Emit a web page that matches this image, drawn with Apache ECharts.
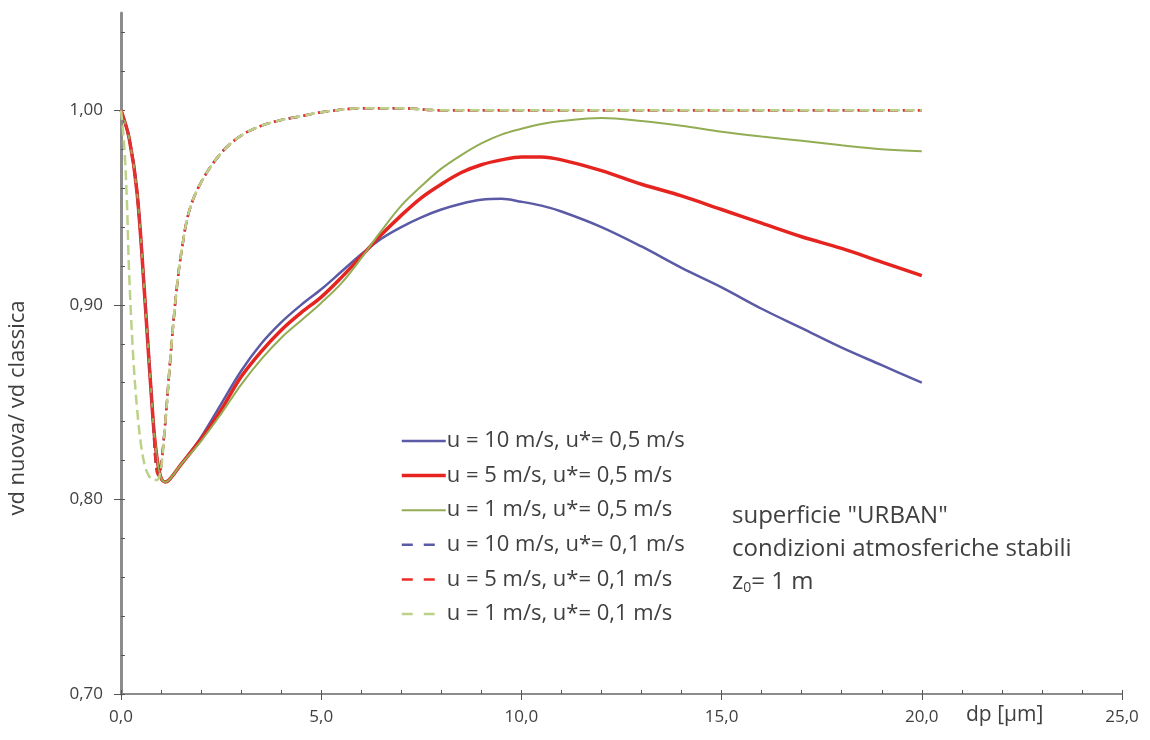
<!DOCTYPE html>
<html>
<head>
<meta charset="utf-8">
<script src="https://cdn.jsdelivr.net/npm/echarts@6/dist/echarts.min.js"></script>
<style>
html,body{margin:0;padding:0;background:#fff;}
#chart{width:1150px;height:740px;}
</style>
</head>
<body>
<div id="chart"></div>
<script>
// ---- data ----
const seriesNames = [
  'u = 10 m/s, u*= 0,5 m/s',
  'u = 5 m/s, u*= 0,5 m/s',
  'u = 1 m/s, u*= 0,5 m/s',
  'u = 10 m/s, u*= 0,1 m/s',
  'u = 5 m/s, u*= 0,1 m/s',
  'u = 1 m/s, u*= 0,1 m/s'
];
const xSolid = [0, 0.2, 0.4, 0.6, 0.8, 0.9, 1.0, 1.1, 1.2, 1.5, 2, 2.5, 3, 3.5, 4, 4.5, 5, 5.5, 6, 6.5, 7, 7.5, 8, 8.5, 9, 9.5, 10, 10.5, 11, 12, 13, 14, 15, 16, 17, 18, 19, 20];
const ySolid10 = [1.000, 0.986, 0.958, 0.902, 0.841, 0.821, 0.811, 0.809, 0.810, 0.818, 0.832, 0.849, 0.866, 0.880, 0.891, 0.900, 0.908, 0.917, 0.926, 0.934, 0.940, 0.945, 0.949, 0.952, 0.954, 0.9545, 0.953, 0.951, 0.948, 0.940, 0.930, 0.919, 0.909, 0.898, 0.888, 0.878, 0.869, 0.860];
const ySolid5  = [1.000, 0.986, 0.958, 0.902, 0.841, 0.821, 0.811, 0.809, 0.810, 0.818, 0.831, 0.846, 0.863, 0.876, 0.887, 0.896, 0.904, 0.914, 0.925, 0.936, 0.946, 0.955, 0.962, 0.968, 0.972, 0.9745, 0.976, 0.976, 0.9745, 0.969, 0.962, 0.956, 0.949, 0.942, 0.935, 0.929, 0.922, 0.915];
const ySolid1  = [1.000, 0.986, 0.958, 0.902, 0.841, 0.821, 0.811, 0.809, 0.810, 0.818, 0.830, 0.844, 0.859, 0.872, 0.883, 0.892, 0.901, 0.911, 0.924, 0.938, 0.951, 0.961, 0.970, 0.977, 0.983, 0.9875, 0.9905, 0.993, 0.9945, 0.996, 0.9945, 0.992, 0.989, 0.9865, 0.9843, 0.982, 0.980, 0.979];

const xDash = [0, 0.2, 0.4, 0.6, 0.8, 0.85, 0.9, 0.95, 1.0, 1.1, 1.2, 1.3, 1.4, 1.5, 1.7, 2.0, 2.5, 3, 3.5, 4, 4.5, 5, 6, 7, 8, 10, 12, 14, 16, 18, 20];
const yDash10 = [1.000, 0.986, 0.958, 0.902, 0.841, 0.823, 0.814, 0.812, 0.817, 0.838, 0.864, 0.889, 0.910, 0.926, 0.948, 0.963, 0.978, 0.987, 0.992, 0.995, 0.997, 0.999, 1.001, 1.001, 1.000, 1.000, 1.000, 1.000, 1.000, 1.000, 1.000];
const yDash5  = [1.000, 0.986, 0.958, 0.902, 0.841, 0.823, 0.814, 0.812, 0.817, 0.838, 0.864, 0.889, 0.910, 0.926, 0.948, 0.963, 0.978, 0.987, 0.992, 0.995, 0.997, 0.999, 1.001, 1.001, 1.000, 1.000, 1.000, 1.000, 1.000, 1.000, 1.000];
const xDash1 = [0, 0.05, 0.1, 0.15, 0.2, 0.3, 0.4, 0.5, 0.6, 0.7, 0.8, 0.9, 1.0, 1.1, 1.2, 1.3, 1.4, 1.5, 1.7, 2.0, 2.5, 3, 3.5, 4, 4.5, 5, 6, 7, 8, 10, 12, 14, 16, 18, 20];
const yDash1  = [1.000, 0.990, 0.975, 0.952, 0.918, 0.875, 0.847, 0.828, 0.817, 0.812, 0.810, 0.810, 0.816, 0.838, 0.864, 0.889, 0.910, 0.926, 0.948, 0.963, 0.978, 0.987, 0.992, 0.995, 0.997, 0.999, 1.001, 1.001, 1.000, 1.000, 1.000, 1.000, 1.000, 1.000, 1.000];

const xTickLabels = [0, 5, 10, 15, 20, 25];
const yTickLabels = [0.70, 0.80, 0.90, 1.00];

// ---- styling ----
const FONT = 'Open Sans';
const TXT = '#404040';
const colors = ['#5a5aa6', '#e52420', '#93ad55', '#5a5aa6', '#ee2b26', '#bcd288'];
const widths = [2.5, 3.5, 2, 2.5, 2.5, 2.5];
const types = ['solid', 'solid', 'solid', 'dashed', 'dashed', 'dashed'];

function pairs(xs, ys) { return xs.map((x, i) => [x, ys[i]]); }
const seriesData = [
  pairs(xSolid, ySolid10), pairs(xSolid, ySolid5), pairs(xSolid, ySolid1),
  pairs(xDash, yDash10), pairs(xDash, yDash5), pairs(xDash1, yDash1)
];

const xMinor = []; for (let v = 0; v <= 25; v += 1) xMinor.push(v);
const yMinor = []; for (let k = 35; k <= 52; k++) yMinor.push(+(k * 0.02).toFixed(2));

const legendData = seriesNames.map((n, i) => ({
  name: n,
  lineStyle: types[i] === 'dashed' ? {type: [11, 11], width: 2.5} : {width: widths[i]}
}));

const chart = echarts.init(document.getElementById('chart'), null, {renderer: 'canvas'});
const axisColor = '#8c8c8c';
chart.setOption({
  animation: false,
  backgroundColor: '#ffffff',
  grid: {left: 121, right: 28, top: 13, bottom: 46},
  legend: {
    orient: 'vertical', left: 395, top: 425,
    itemWidth: 44, itemHeight: 14, itemGap: 12.6,
    itemStyle: {opacity: 0},
    data: legendData,
    textStyle: {fontFamily: FONT, fontSize: 22, lineHeight: 22, color: TXT, padding: [0, 0, 0, -4]}
  },
  xAxis: [{
    type: 'value', min: 0, max: 25, interval: 5,
    axisLine: {show: true, lineStyle: {color: axisColor, width: 2}},
    axisTick: {show: true, length: 6, lineStyle: {color: '#555', width: 1}, customValues: xTickLabels},
    axisLabel: {customValues: xTickLabels, margin: 15, fontFamily: FONT, fontSize: 17, color: TXT,
      formatter: v => v.toFixed(1).replace('.', ',')},
    splitLine: {show: false}
  }, {
    type: 'value', min: 0, max: 25, position: 'bottom',
    axisLine: {show: false},
    axisTick: {show: true, inside: true, length: 4, lineStyle: {color: '#555', width: 1}, customValues: xMinor},
    axisLabel: {show: false}, splitLine: {show: false}
  }],
  yAxis: [{
    type: 'value', min: 0.70, max: 1.05,
    axisLine: {show: true, lineStyle: {color: axisColor, width: 3}},
    axisTick: {show: true, length: 7, lineStyle: {color: '#555', width: 1}, customValues: yTickLabels},
    axisLabel: {customValues: yTickLabels, margin: 18, fontFamily: FONT, fontSize: 17, color: TXT,
      formatter: v => v.toFixed(2).replace('.', ',')},
    splitLine: {show: false}
  }, {
    type: 'value', min: 0.70, max: 1.05, position: 'left',
    axisLine: {show: false},
    axisTick: {show: true, inside: true, length: 4, lineStyle: {color: '#555', width: 1}, customValues: yMinor},
    axisLabel: {show: false}, splitLine: {show: false}
  }],
  series: seriesNames.map((name, i) => ({
    name: name, type: 'line', xAxisIndex: 0, yAxisIndex: 0,
    data: seriesData[i], smooth: 0.35, showSymbol: false, symbol: 'none',
    color: colors[i],
    lineStyle: {color: colors[i], width: widths[i], type: types[i]},
    z: 2 + i
  })),
  graphic: [
    {type: 'text', left: 732, top: 504, style: {text: 'superficie "URBAN"', font: '24px "Open Sans"', fill: TXT}},
    {type: 'text', left: 732, top: 537, style: {text: 'condizioni atmosferiche stabili', font: '24px "Open Sans"', fill: TXT}},
    {type: 'text', left: 732, top: 570, style: {
      text: '{a|z}{s|0}{a|= 1 m}',
      rich: {a: {fontFamily: FONT, fontSize: 24, fill: TXT}, s: {fontFamily: FONT, fontSize: 14, fill: TXT, padding: [13, 0, 0, 0]}}
    }},
    {type: 'text', left: 966, top: 705, style: {text: 'dp [µm]', font: '21px "Open Sans"', fill: TXT}},
    {type: 'text', x: 18, y: 408, rotation: Math.PI / 2, style: {text: 'vd nuova/ vd classica', font: '22px "Open Sans"', fill: TXT, align: 'center', verticalAlign: 'middle'}}
  ]
});
</script>
</body>
</html>
